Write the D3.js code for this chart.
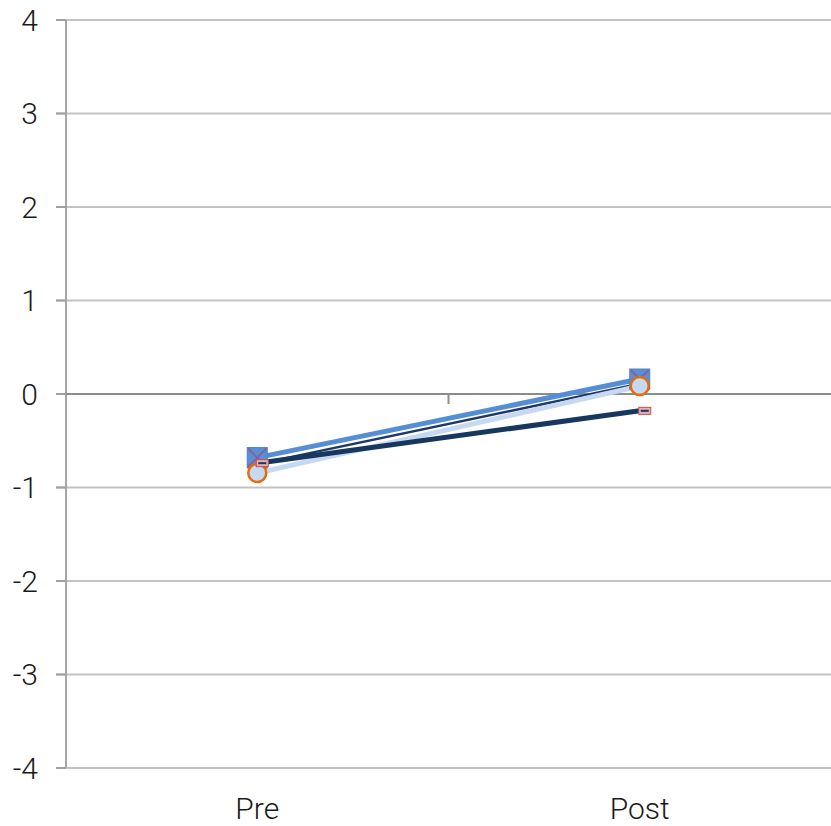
<!DOCTYPE html>
<html><head><meta charset="utf-8">
<script src="https://cdn.jsdelivr.net/npm/d3@7"></script>
<style>body{margin:0;background:#fff}svg{display:block}text{font-family:Roboto,sans-serif;font-weight:300;fill:#1a1a1a}</style>
</head><body><div id="c"></div>
<script>
const categories = ["Pre", "Post"];
const yTicks = [-4, -3, -2, -1, 0, 1, 2, 3, 4];
const seriesA = [-0.68, 0.16];   // blue, square marker
const seriesB = [-0.75, 0.11];   // navy thin, x marker
const seriesC = [-0.845, 0.086]; // light blue, circle marker
const seriesD = [-0.74, -0.18];  // navy thick, dash marker

const W = 831, H = 826;
const m = {l: 66, r: 0, t: 20, b: 58};
const svg = d3.select("#c").append("svg").attr("width", W).attr("height", H);
const x = d3.scaleBand().domain(categories).range([m.l, W - m.r]);
const y = d3.scaleLinear().domain([-4, 4]).range([H - m.b, m.t]);
const cx = c => x(c) + x.bandwidth() / 2;

// gridlines
svg.append("g").selectAll("line").data(yTicks.filter(t => t !== 0)).join("line")
  .attr("x1", m.l - 10).attr("x2", W).attr("y1", d => y(d)).attr("y2", d => y(d))
  .attr("stroke", "#c3c3c3").attr("stroke-width", 2);
// y axis
svg.append("line").attr("x1", m.l).attr("x2", m.l).attr("y1", y(4)).attr("y2", y(-4))
  .attr("stroke", "#a6a6a6").attr("stroke-width", 2);
svg.append("g").selectAll("line").data(yTicks).join("line")
  .attr("x1", m.l - 10).attr("x2", m.l).attr("y1", d => y(d)).attr("y2", d => y(d))
  .attr("stroke", "#a0a0a0").attr("stroke-width", 2);
svg.append("g").selectAll("text").data(yTicks).join("text")
  .attr("x", 38).attr("y", d => y(d)).attr("dy", "0.35em").attr("text-anchor", "end")
  .attr("font-size", 30).text(d => d);
// zero axis
svg.append("line").attr("x1", m.l).attr("x2", W).attr("y1", y(0)).attr("y2", y(0))
  .attr("stroke", "#8c8c8c").attr("stroke-width", 2);
const bounds = [x(categories[1])];
svg.append("g").selectAll("line").data(bounds).join("line")
  .attr("x1", d => d).attr("x2", d => d).attr("y1", y(0)).attr("y2", y(0) + 10)
  .attr("stroke", "#8c8c8c").attr("stroke-width", 2);
// x labels
svg.append("g").selectAll("text").data(categories).join("text")
  .attr("x", d => cx(d)).attr("y", 819).attr("text-anchor", "middle")
  .attr("font-size", 30).text(d => d);

const line = d3.line().x((d, i) => cx(categories[i])).y(d => y(d));
function drawLine(vals, color, w) {
  svg.append("path").datum(vals).attr("d", line).attr("fill", "none")
    .attr("stroke", color).attr("stroke-width", w);
}
drawLine(seriesA, "#558ed5", 5);
drawLine(seriesB, "#1f3864", 2.5);
drawLine(seriesC, "#c6d9f1", 5);
drawLine(seriesD, "#17375e", 5);

// markers
const gA = svg.append("g");
gA.selectAll("rect").data(seriesA).join("rect")
  .attr("x", (d, i) => cx(categories[i]) - 10).attr("y", d => y(d) - 10)
  .attr("width", 20).attr("height", 20).attr("fill", "#5b8ed6").attr("stroke", "#4f81bd").attr("stroke-width", 1);
const gB = svg.append("g");
seriesB.forEach((d, i) => {
  const px = cx(categories[i]), py = y(seriesA[i]);
  gB.append("path").attr("d", `M${px-9},${py-9}L${px+9},${py+9}M${px+9},${py-9}L${px-9},${py+9}`)
    .attr("stroke", "#8064a2").attr("stroke-width", 2).attr("fill", "none");
});
svg.append("g").selectAll("rect").data(seriesA).join("rect")
  .attr("x", (d, i) => cx(categories[i]) - 10).attr("y", d => y(d) + 8)
  .attr("width", 20).attr("height", 3).attr("fill", "#c0504d").attr("opacity", 0.8);
svg.append("g").selectAll("circle").data(seriesC).join("circle")
  .attr("cx", (d, i) => cx(categories[i])).attr("cy", d => y(d)).attr("r", 9)
  .attr("fill", "#c6d9f1").attr("stroke", "#e46c0a").attr("stroke-width", 2.5);
const gD = svg.append("g");
seriesD.forEach((d, i) => {
  const px = cx(categories[i]) + 5, py = y(d);
  gD.append("rect").attr("x", px - 6).attr("y", py - 3.5).attr("width", 12).attr("height", 7)
    .attr("fill", "#e6b0b0").attr("stroke", "#c0504d").attr("stroke-width", 1);
  gD.append("line").attr("x1", px - 4).attr("x2", px + 4).attr("y1", py).attr("y2", py)
    .attr("stroke", "#17375e").attr("stroke-width", 2);
});
</script></body></html>
